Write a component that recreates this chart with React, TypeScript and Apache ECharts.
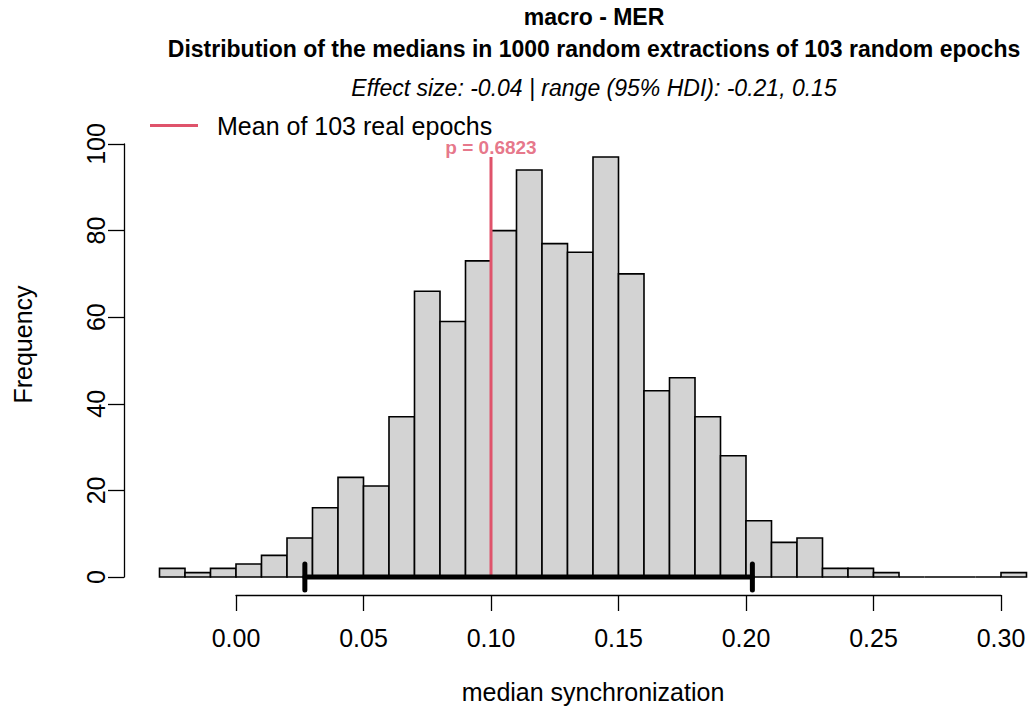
import React, { useEffect, useRef } from "react";
import * as echarts from "echarts";

// Histogram of medians from 1000 random extractions
const binLower = [
  -0.03, -0.02, -0.01, 0.0, 0.01, 0.02, 0.03, 0.04, 0.05, 0.06, 0.07, 0.08,
  0.09, 0.1, 0.11, 0.12, 0.13, 0.14, 0.15, 0.16, 0.17, 0.18, 0.19, 0.2, 0.21,
  0.22, 0.23, 0.24, 0.25, 0.26, 0.27, 0.28, 0.29, 0.3,
];
const binWidth = 0.01;
const counts = [
  2, 1, 2, 3, 5, 9, 16, 23, 21, 37, 66, 59, 73, 80, 94, 77, 75, 97, 70, 43, 46,
  37, 28, 13, 8, 9, 2, 2, 1, 0, 0, 0, 0, 1,
];

// Mean of the real epochs and its p-value
const realMean = 0.1;
const realMeanHeight = 97;
const pValue = "0.6823";

// 95% HDI interval drawn under the histogram
const hdiLow = 0.027;
const hdiHigh = 0.2025;
const hdiTickHalf = 3;

const xTicks = { min: 0, max: 0.3, interval: 0.05 };
const yTicks = { min: 0, max: 100, interval: 20 };

const titleMain = "macro - MER";
const titleSecond =
  "Distribution of the medians in 1000 random extractions of 103 random epochs";
const subtitle = "Effect size: -0.04 | range (95% HDI): -0.21, 0.15";
const legendName = "Mean of 103 real epochs";

const FONT = "'Liberation Sans', Arial, Helvetica, sans-serif";
const RED = "#DF536B";

export default function App() {
  const ref = useRef<HTMLDivElement>(null);

  useEffect(() => {
    if (!ref.current) return;
    const chart = echarts.init(ref.current, undefined, { renderer: "svg" });

    const histData = binLower.map((lo, i) => [lo, lo + binWidth, counts[i]]);

    const axisLineStyle = { color: "#000", width: 1.3 };

    chart.setOption({
      animation: false,
      backgroundColor: "#ffffff",
      textStyle: { fontFamily: FONT },
      grid: { left: 236, right: 28, top: 144, bottom: 134, containLabel: false },
      xAxis: {
        type: "value",
        min: xTicks.min,
        max: xTicks.max,
        interval: xTicks.interval,
        offset: 18,
        axisLine: { show: true, onZero: false, lineStyle: axisLineStyle },
        axisTick: { show: true, length: 16, lineStyle: axisLineStyle },
        axisLabel: {
          fontSize: 25,
          color: "#000",
          margin: 30,
          fontFamily: FONT,
          formatter: (v: number) => v.toFixed(2),
        },
        splitLine: { show: false },
        name: "median synchronization",
        nameLocation: "middle",
        nameGap: 84,
        nameTextStyle: {
          fontSize: 25,
          color: "#000",
          fontFamily: FONT,
          // centred on the whole plot region rather than the tick span
          padding: [0, 51, 0, 0],
        },
      },
      yAxis: {
        type: "value",
        min: yTicks.min,
        max: yTicks.max,
        interval: yTicks.interval,
        offset: 112,
        axisLine: { show: true, onZero: false, lineStyle: axisLineStyle },
        axisTick: { show: true, length: 16, lineStyle: axisLineStyle },
        axisLabel: {
          fontSize: 25,
          color: "#000",
          margin: 16,
          rotate: 90,
          fontFamily: FONT,
        },
        splitLine: { show: false },
        name: "Frequency",
        nameLocation: "middle",
        nameRotate: 90,
        nameGap: 89,
        nameTextStyle: {
          fontSize: 25,
          color: "#000",
          fontFamily: FONT,
          padding: [0, 0, 0, 32],
        },
      },
      legend: {
        show: true,
        left: 145,
        top: 108,
        data: [legendName],
        itemWidth: 48,
        itemHeight: 3,
        icon: "rect",
        textStyle: {
          fontSize: 25,
          color: "#000",
          fontFamily: FONT,
          padding: [0, 0, 0, 14],
        },
      },
      graphic: [
        {
          type: "text",
          x: 594,
          y: 17,
          style: {
            text: titleMain,
            font: `bold 23px ${FONT}`,
            fill: "#000",
            textAlign: "center",
            textVerticalAlign: "middle",
          },
        },
        {
          type: "text",
          x: 594,
          y: 49,
          style: {
            text: titleSecond,
            font: `bold 23px ${FONT}`,
            fill: "#000",
            textAlign: "center",
            textVerticalAlign: "middle",
          },
        },
        {
          type: "text",
          x: 594,
          y: 88,
          style: {
            text: subtitle,
            font: `italic 23px ${FONT}`,
            fill: "#000",
            textAlign: "center",
            textVerticalAlign: "middle",
          },
        },
      ],
      series: [
        {
          type: "custom",
          name: "hist",
          clip: false,
          data: histData,
          renderItem: (_params: any, api: any) => {
            const p0 = api.coord([api.value(0), api.value(2)]);
            const p1 = api.coord([api.value(1), 0]);
            return {
              type: "rect",
              shape: {
                x: p0[0],
                y: p0[1],
                width: p1[0] - p0[0],
                height: p1[1] - p0[1],
              },
              style: { fill: "#D3D3D3", stroke: "#000", lineWidth: 1.6 },
            };
          },
          z: 2,
        },
        {
          type: "line",
          name: legendName,
          clip: false,
          symbol: "none",
          color: RED,
          lineStyle: { color: RED, width: 3 },
          data: [
            [realMean, 0],
            [realMean, realMeanHeight],
          ],
          z: 4,
        },
        {
          type: "scatter",
          name: "pLabel",
          clip: false,
          symbolSize: 0,
          data: [[realMean, realMeanHeight]],
          label: {
            show: true,
            position: "top",
            distance: 0,
            formatter: `p = ${pValue}`,
            color: RED,
            fontSize: 19,
            fontWeight: "bold",
            fontFamily: FONT,
          },
          z: 4,
        },
        {
          type: "line",
          name: "hdi",
          clip: false,
          symbol: "none",
          lineStyle: { color: "#000", width: 5, cap: "round" },
          data: [
            [hdiLow, 0],
            [hdiHigh, 0],
          ],
          z: 5,
        },
        {
          type: "line",
          name: "hdiLowEnd",
          clip: false,
          symbol: "none",
          lineStyle: { color: "#000", width: 5, cap: "round" },
          data: [
            [hdiLow, hdiTickHalf],
            [hdiLow, -hdiTickHalf],
          ],
          z: 5,
        },
        {
          type: "line",
          name: "hdiHighEnd",
          clip: false,
          symbol: "none",
          lineStyle: { color: "#000", width: 5, cap: "round" },
          data: [
            [hdiHigh, hdiTickHalf],
            [hdiHigh, -hdiTickHalf],
          ],
          z: 5,
        },
      ],
    });

    return () => chart.dispose();
  }, []);

  return (
    <div
      ref={ref}
      style={{ position: "fixed", left: 0, top: 0, width: 1029, height: 711 }}
    />
  );
}
